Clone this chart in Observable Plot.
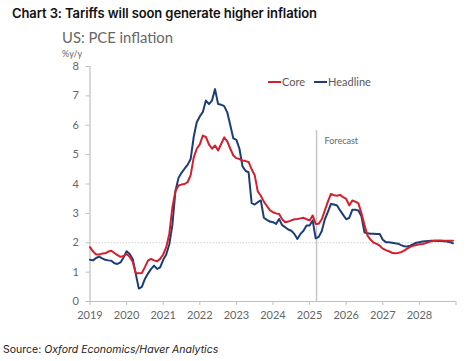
<!DOCTYPE html>
<html>
<head>
<meta charset="utf-8">
<script src="https://cdn.jsdelivr.net/npm/d3@7"></script>
<script src="https://cdn.jsdelivr.net/npm/@observablehq/plot@0.6"></script>
<style>
  html, body { margin: 0; padding: 0; background: #fff; }
  #wrap { position: relative; width: 473px; height: 361px; overflow: hidden; }
  #wrap svg { position: absolute; left: 0; top: 0; }
  .t { position: absolute; white-space: nowrap; }
  #title { left: 12px; top: 5px; font-family: Inter, sans-serif; font-weight: 600; font-size: 13px; color: #111; letter-spacing: -0.1px; }
  #sub { left: 62px; top: 28px; font-family: Lato, sans-serif; font-size: 14.8px; color: #666; }
  #unit { left: 62px; top: 48px; font-family: Lato, sans-serif; font-size: 9px; color: #666; }
  #source { left: 3px; top: 343px; font-family: Inter, sans-serif; font-size: 10.5px; color: #222; }
  #source i { font-style: italic; }
  .leg { position: absolute; top: 75px; font-family: Lato, sans-serif; font-size: 11px; color: #595959; display: flex; align-items: center; }
  .sw { display: inline-block; width: 13px; height: 2px; margin-right: 1px; }
</style>
</head>
<body>
<div id="wrap">
  <div id="plot"></div>
  <div class="t" id="title">Chart 3: Tariffs will soon generate higher inflation</div>
  <div class="t" id="sub">US: PCE inflation</div>
  <div class="t" id="unit">%y/y</div>
  <div class="leg" id="leg" style="left:268px"></div>
  <div class="t" id="source">Source: <i>Oxford Economics/Haver Analytics</i></div>
</div>
<script>
// ---- data (monthly, Jan 2019 .. Dec 2028) ----
const startYear = 2019;
const seriesNames = ["Core", "Headline"];
const seriesColors = ["#d3202c", "#1c3d78"];
const coreValues = [
  1.85, 1.70, 1.60, 1.60, 1.63, 1.64, 1.70, 1.73, 1.65, 1.58, 1.52, 1.55,
  1.62, 1.52, 1.35, 0.96, 0.96, 0.97, 1.17, 1.39, 1.45, 1.40, 1.37, 1.45,
  1.60, 1.85, 2.30, 3.20, 3.75, 3.95, 3.98, 4.00, 4.06, 4.30, 4.90, 5.20,
  5.35, 5.65, 5.60, 5.35, 5.20, 5.31, 5.14, 5.36, 5.59, 5.45, 5.20, 4.97,
  4.88, 4.85, 4.80, 4.78, 4.75, 4.50, 4.30, 3.75, 3.60, 3.40, 3.25, 3.10,
  3.04, 3.00, 2.98, 2.80, 2.70, 2.72, 2.76, 2.80, 2.81, 2.83, 2.85, 2.80,
  2.76, 2.93, 2.64, 2.65, 2.80, 3.10, 3.40, 3.66, 3.62, 3.60, 3.63, 3.55,
  3.49, 3.27, 3.44, 3.40, 3.34, 3.00, 2.60, 2.24, 2.10, 2.00, 1.96, 1.90,
  1.80, 1.75, 1.71, 1.66, 1.64, 1.65, 1.68, 1.73, 1.80, 1.86, 1.90, 1.92,
  1.95, 1.96, 1.98, 2.02, 2.05, 2.07, 2.08, 2.08, 2.07, 2.07, 2.07, 2.07
];
const headlineValues = [
  1.42, 1.40, 1.48, 1.53, 1.47, 1.42, 1.40, 1.39, 1.30, 1.28, 1.33, 1.50,
  1.71, 1.62, 1.45, 0.95, 0.44, 0.50, 0.77, 0.95, 1.10, 1.22, 1.11, 1.16,
  1.42, 1.60, 1.95, 2.60, 3.75, 4.20, 4.38, 4.52, 4.65, 4.85, 5.60, 6.10,
  6.30, 6.45, 6.84, 6.72, 6.84, 7.23, 6.72, 6.70, 6.65, 6.44, 6.00, 5.55,
  5.50, 5.20, 4.60, 4.45, 4.40, 3.35, 3.30, 3.38, 3.44, 2.85, 2.78, 2.72,
  2.70, 2.64, 2.81, 2.60, 2.53, 2.45, 2.41, 2.30, 2.13, 2.30, 2.41, 2.59,
  2.59, 2.76, 2.15, 2.20, 2.40, 2.80, 3.05, 3.32, 3.30, 3.27, 3.10, 2.95,
  2.80, 2.85, 3.12, 3.12, 3.10, 2.90, 2.35, 2.32, 2.31, 2.31, 2.30, 2.30,
  2.10, 2.02, 2.02, 2.00, 1.98, 1.97, 1.92, 1.88, 1.87, 1.90, 1.95, 2.00,
  2.02, 2.04, 2.05, 2.06, 2.07, 2.07, 2.06, 2.06, 2.05, 2.04, 2.02, 1.98
];
const xTicks = [2019, 2020, 2021, 2022, 2023, 2024, 2025, 2026, 2027, 2028, 2029];
const xTickLabels = ["2019", "2020", "2021", "2022", "2023", "2024", "2025", "2026", "2027", "2028", ""];
const yTicks = [0, 1, 2, 3, 4, 5, 6, 7, 8];
const forecastStart = 2025.19;
const forecastLabel = "Forecast";
const targetLevel = 2;

// ---- build table ----
const rows = [];
coreValues.forEach((v, i) => rows.push({date: startYear + i / 12, value: v, series: "Core"}));
headlineValues.forEach((v, i) => rows.push({date: startYear + i / 12, value: v, series: "Headline"}));

const axisColor = "#bfbfbf";
const labelColor = "#666666";

const chart = Plot.plot({
  width: 473,
  height: 361,
  marginLeft: 89.5,
  marginRight: 17.5,
  marginTop: 66,
  marginBottom: 60,
  style: {fontFamily: "Lato, sans-serif", fontSize: "10.5px", color: labelColor, background: "transparent"},
  x: {domain: [2019, 2029], axis: null},
  y: {domain: [0, 8], axis: null},
  color: {domain: seriesNames, range: seriesColors},
  marks: [
    Plot.ruleY([targetLevel], {stroke: "#cfcfcf", strokeWidth: 1.2, strokeDasharray: "1.5,1.5"}),
    Plot.ruleX([forecastStart], {y1: 0, y2: 5.82, stroke: "#c6c6c6", strokeWidth: 1.5}),
    Plot.text([forecastLabel], {x: forecastStart, y: 5.45, text: d => d, dx: 8, textAnchor: "start", fontSize: 9, fill: labelColor}),
    Plot.ruleX([2019], {stroke: axisColor, strokeWidth: 1.2}),
    Plot.ruleY([0], {stroke: axisColor, strokeWidth: 1.2}),
    Plot.axisY({ticks: yTicks, tickSize: 4, tickPadding: 7, stroke: axisColor, fill: labelColor, label: null, fontSize: 11}),
    Plot.axisX({ticks: xTicks, tickFormat: (d) => xTickLabels[xTicks.indexOf(d)], tickSize: 4, tickPadding: 6, stroke: axisColor, fill: labelColor, label: null, fontSize: 11}),
    Plot.line(rows.filter(d => d.series === "Headline"), {x: "date", y: "value", stroke: "series", strokeWidth: 2, curve: "linear"}),
    Plot.line(rows.filter(d => d.series === "Core"), {x: "date", y: "value", stroke: "series", strokeWidth: 2, curve: "linear"})
  ]
});
document.getElementById("plot").appendChild(chart);

// legend
const leg = document.getElementById("leg");
seriesNames.forEach((name, i) => {
  const sw = document.createElement("span");
  sw.className = "sw";
  sw.style.background = seriesColors[i];
  const lb = document.createElement("span");
  lb.textContent = name;
  lb.style.marginRight = i === 0 ? "9px" : "0";
  leg.appendChild(sw);
  leg.appendChild(lb);
});
</script>
</body>
</html>
